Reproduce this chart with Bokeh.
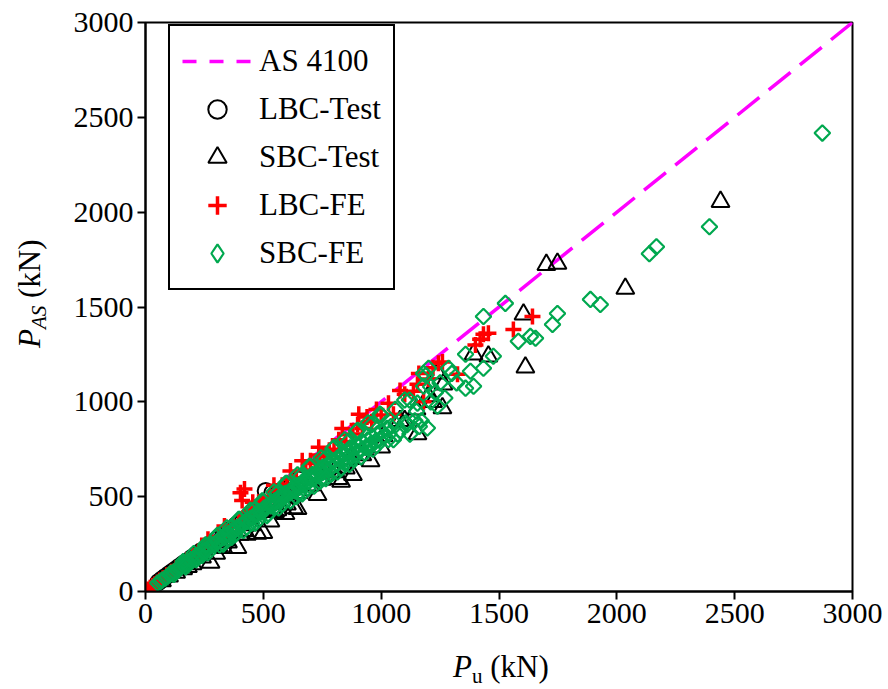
import math
from bokeh.plotting import figure
from bokeh.models import Range1d, FixedTicker, Legend, LegendItem, Div
from bokeh.layouts import row, column
from bokeh.embed import file_html
from bokeh.resources import INLINE

# ---------------- data ----------------
line_x = [0, 3000]
line_y = [0, 3000]

lbc_test_x = [55, 70, 85, 100, 115, 130, 145, 160, 178, 195, 215, 235, 258, 280, 305, 330, 355, 385, 415, 445, 475, 500, 510, 538, 560, 590, 620, 650]
lbc_test_y = [50, 64, 78, 92, 105, 118, 132, 146, 160, 176, 195, 212, 232, 254, 276, 298, 322, 350, 376, 402, 430, 460, 530, 520, 515, 540, 565, 590]

sbc_test_x = [70, 100, 130, 160, 180, 200, 240, 276, 300, 310, 330, 340, 350, 390, 400, 420, 430, 450, 475, 500, 530, 540, 550, 560, 594, 600, 620, 630, 645, 650, 700, 730, 750, 760, 800, 819, 830, 850, 870, 880, 920, 955, 1000, 1010, 1080, 1100, 1150, 1154, 1200, 1220, 1240, 1260, 1264, 1392, 1455, 1604, 1612, 1701, 1748, 2036, 2440]
sbc_test_y = [55, 80, 100, 118, 130, 145, 180, 152, 200, 240, 230, 270, 260, 231, 300, 320, 300, 350, 305, 310, 370, 470, 420, 430, 410, 460, 500, 440, 436, 520, 560, 510, 590, 640, 630, 594, 580, 650, 700, 615, 720, 688, 760, 820, 900, 900, 960, 830, 1030, 1000, 1150, 967, 1093, 1251, 1240, 1461, 1182, 1723, 1729, 1597, 2055]

lbc_fe_x = [10, 20, 30, 40, 50, 60, 75, 90, 110, 130, 150, 175, 200, 225, 250, 265, 280, 310, 335, 340, 370, 395, 403, 410, 420, 430, 440, 455, 470, 480, 500, 520, 530, 545, 560, 580, 600, 615, 620, 640, 665, 680, 700, 720, 735, 740, 760, 780, 800, 820, 835, 850, 880, 900, 905, 920, 940, 960, 980, 1000, 1031, 1052, 1080, 1100, 1137, 1154, 1160, 1180, 1200, 1220, 1243, 1260, 1324, 1400, 1420, 1434, 1455, 1561, 1642]
lbc_fe_y = [10, 20, 30, 38, 48, 58, 70, 86, 104, 122, 140, 165, 188, 212, 235, 275, 262, 290, 345, 318, 345, 370, 520, 480, 541, 400, 420, 470, 445, 470, 475, 490, 500, 560, 530, 560, 565, 635, 590, 600, 690, 640, 690, 675, 760, 720, 710, 745, 750, 800, 860, 790, 830, 880, 935, 860, 920, 895, 960, 930, 993, 935, 1060, 1040, 1056, 1093, 1150, 1000, 1120, 1180, 1203, 1210, 1146, 1300, 1330, 1356, 1361, 1382, 1450]

sbc_fe_x = [52, 63, 71, 84, 92, 103, 112, 120, 121, 133, 141, 152, 160, 163, 171, 180, 182, 193, 204, 212, 223, 231, 240, 244, 252, 260, 263, 271, 284, 293, 304, 300, 313, 322, 330, 334, 350, 341, 356, 360, 363, 372, 380, 383, 391, 404, 400, 412, 423, 430, 431, 444, 450, 452, 460, 463, 472, 480, 483, 491, 502, 500, 511, 520, 522, 533, 542, 550, 553, 560, 561, 574, 580, 583, 591, 604, 600, 612, 621, 633, 640, 642, 650, 653, 660, 664, 672, 683, 690, 694, 700, 702, 713, 724, 731, 740, 745, 750, 752, 760, 761, 773, 784, 790, 792, 800, 803, 812, 824, 830, 833, 841, 850, 853, 860, 862, 874, 880, 883, 892, 900, 904, 913, 922, 930, 934, 943, 950, 952, 960, 963, 974, 980, 983, 992, 1000, 1003, 1012, 1024, 1030, 1033, 1041, 1052, 1060, 1063, 1070, 1081, 1100, 1104, 1110, 1120, 1122, 1143, 1150, 1162, 1170, 1180, 1190, 1196, 1154, 1210, 1210, 1239, 1201, 1250, 1286, 1300, 1358, 1379, 1434, 1476, 1358, 1392, 1180, 1230, 1270, 1320, 1434, 1527, 1582, 1633, 1655, 1727, 1748, 1888, 1930, 2138, 2168, 2393, 2872,
            108, 147, 193, 228, 272, 308, 352, 388, 433, 468, 512, 548, 592, 628, 673, 708, 752, 788, 833, 868, 136, 174, 217, 253, 297, 333, 377, 414, 456, 493, 537, 572, 617, 653, 697, 733, 777, 813, 857, 896,
            160, 205, 255, 305, 345, 395, 445, 495, 545, 595, 645, 695, 745, 795, 845, 895, 945, 995,
            170, 215, 265, 315, 365, 415, 465, 515, 565, 615, 665, 715, 765, 815, 865, 915, 965]
sbc_fe_y = [45, 52, 60, 70, 78, 88, 95, 90, 104, 115, 120, 132, 150, 138, 150, 140, 155, 168, 172, 185, 190, 200, 190, 210, 215, 240, 228, 232, 245, 250, 262, 285, 268, 280, 250, 285, 280, 298, 300, 335, 315, 318, 300, 332, 335, 350, 380, 352, 368, 340, 370, 385, 360, 386, 430, 402, 404, 380, 420, 420, 438, 475, 436, 410, 455, 452, 472, 445, 468, 520, 490, 485, 460, 505, 500, 522, 570, 518, 540, 530, 500, 556, 520, 548, 610, 575, 560, 590, 545, 580, 660, 605, 595, 622, 610, 580, 640, 600, 628, 700, 655, 640, 672, 620, 655, 760, 690, 670, 705, 650, 690, 720, 680, 700, 790, 740, 712, 700, 755, 730, 850, 770, 745, 785, 730, 760, 800, 760, 775, 880, 815, 790, 770, 830, 800, 930, 845, 815, 860, 800, 830, 870, 800, 960, 880, 830, 850, 1010, 890, 880, 1010, 830, 900, 950, 870, 900, 1082, 1140, 862, 993, 1000, 1080, 977, 1177, 1100, 1177, 1150, 1251, 1161, 1177, 1240, 1072, 1082, 1150, 1050, 1020, 1100, 1450, 1519, 1319, 1345, 1335, 1408, 1466, 1540, 1513, 1781, 1818, 1923, 2417,
            97, 129, 166, 199, 236, 268, 306, 338, 377, 408, 446, 478, 516, 548, 586, 617, 656, 688, 726, 758, 111, 146, 183, 217, 252, 289, 322, 356, 391, 424, 463, 494, 531, 563, 602, 634, 669, 701, 736, 771,
            158, 200, 246, 296, 336, 380, 428, 478, 525, 570, 615, 660, 705, 752, 800, 845, 890, 935,
            130, 168, 205, 245, 285, 322, 360, 400, 440, 478, 515, 555, 595, 630, 670, 710, 750]

x_ticks = [0, 500, 1000, 1500, 2000, 2500, 3000]
y_ticks = [0, 500, 1000, 1500, 2000, 2500, 3000]

# axis-title texts: (main symbol, subscript, unit)
x_title = ("P", "u", "(kN)")
y_title = ("P", "AS", "(kN)")

# ---------------- styling ----------------
FONT = "Liberation Serif"
GREEN = "#00A84F"
RED = "#FF0000"
MAGENTA = "#FF00FF"

LEFT_W = 60      # width of the y-title strip
BOTTOM_H = 50    # height of the x-title strip

p = figure(width=888 - LEFT_W, height=689 - BOTTOM_H, output_backend="svg", toolbar_location=None,
           x_range=Range1d(0, 3000), y_range=Range1d(0, 3000))
p.min_border_left = 145 - LEFT_W
p.min_border_right = 36
p.min_border_top = 22
p.min_border_bottom = (689 - BOTTOM_H) - 591
p.background_fill_color = "white"
p.border_fill_color = "white"
p.outline_line_color = "black"
p.outline_line_width = 2
p.outline_line_alpha = 1
p.xgrid.visible = False
p.ygrid.visible = False
p.margin = 0

for ax, ticks in ((p.xaxis[0], x_ticks), (p.yaxis[0], y_ticks)):
    ax.ticker = FixedTicker(ticks=ticks)
    ax.axis_line_width = 2
    ax.axis_line_color = "black"
    ax.major_tick_line_width = 2
    ax.major_tick_line_color = "black"
    ax.major_tick_out = 8
    ax.major_tick_in = 0
    ax.minor_tick_out = 0
    ax.minor_tick_in = 0
    ax.major_label_text_font = FONT
    ax.major_label_text_font_size = "30px"
    ax.major_label_text_color = "black"
    ax.major_label_standoff = 4
    ax.axis_label = None

line_r = p.line(line_x, line_y, line_color=MAGENTA, line_width=3.5, line_dash="28 12")
legend_line = p.line([float("nan")], [float("nan")], line_color=MAGENTA, line_width=3.5, line_dash="14 13")

c_r = p.scatter(lbc_test_x, lbc_test_y, marker="circle", size=16, fill_color=None,
                line_color="black", line_width=2)
t_r = p.scatter(sbc_test_x, sbc_test_y, marker="triangle", size=18, fill_color=None,
                line_color="black", line_width=2)
x_r = p.scatter(lbc_fe_x, lbc_fe_y, marker="cross", size=16, line_color=RED, line_width=3.5)
d_r = p.scatter(sbc_fe_x, sbc_fe_y, marker="square", angle=math.pi / 4, size=11,
                fill_color=None, line_color=GREEN, line_width=2.2)
# legend swatch for the diamonds (legend glyphs ignore marker angle)
d_leg = p.scatter([float("nan")], [float("nan")], marker="diamond", size=11,
                  fill_color=None, line_color=GREEN, line_width=2.2)

legend = Legend(items=[
    LegendItem(label="AS 4100", renderers=[legend_line]),
    LegendItem(label="LBC-Test", renderers=[c_r]),
    LegendItem(label="SBC-Test", renderers=[t_r]),
    LegendItem(label="LBC-FE", renderers=[x_r]),
    LegendItem(label="SBC-FE", renderers=[d_leg]),
], location=(23, 301))
legend.label_text_font = FONT
legend.label_text_font_size = "31px"
legend.label_text_color = "black"
legend.border_line_color = "black"
legend.border_line_width = 2
legend.border_line_alpha = 1
legend.background_fill_color = "white"
legend.background_fill_alpha = 1
legend.padding = 12
legend.spacing = 2
legend.label_height = 44
legend.glyph_height = 46
legend.glyph_width = 70
legend.label_standoff = 7
legend.margin = 0
p.add_layout(legend, "center")

# ---------------- axis titles (HTML text strips beside the figure) ----------------
BASE = ("font-family:&quot;Liberation Serif&quot;,&quot;Times New Roman&quot;,serif;"
        "font-size:31px;line-height:31px;color:#000;white-space:nowrap;font-weight:normal;")


def title_html(parts, sub_italic):
    main, sub, unit = parts
    sub_style = "font-size:21px;line-height:0;vertical-align:-6px;font-style:%s;" % (
        "italic" if sub_italic else "normal")
    return ('<i style="font-style:italic;">%s</i><span style="%s">%s</span>&nbsp;%s'
            % (main, sub_style, sub, unit))


ydiv = Div(
    text=('<div style="position:relative;width:%dpx;height:%dpx;">'
          '<div style="position:absolute;left:14px;top:348px;transform:rotate(-90deg);'
          'transform-origin:0 0;%s">%s</div></div>')
    % (LEFT_W, 689 - BOTTOM_H, BASE, title_html(y_title, True)),
    width=LEFT_W, height=689 - BOTTOM_H, margin=0)

xdiv = Div(
    text=('<div style="position:relative;width:888px;height:%dpx;">'
          '<div style="position:absolute;left:453px;top:12px;%s">%s</div></div>')
    % (BOTTOM_H, BASE, title_html(x_title, False)),
    width=888, height=BOTTOM_H, margin=0)

layout = column(row(ydiv, p, spacing=0, margin=0), xdiv, spacing=0, margin=0)

open("out.html", "w").write(file_html(layout, INLINE))
